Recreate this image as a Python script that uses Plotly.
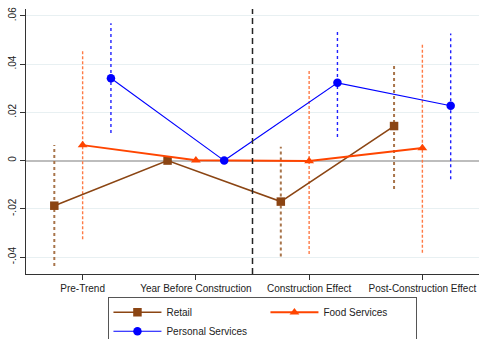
import plotly.graph_objects as go

# Event-study estimates by sector
periods = ["Pre-Trend", "Year Before Construction", "Construction Effect", "Post-Construction Effect"]

retail = [-0.0187, 0.0, -0.0170, 0.0143]
retail_lo = [-0.0437, None, -0.0398, -0.0118]
retail_hi = [0.0064, None, 0.0057, 0.0402]

food = [0.0064, 0.0001, -0.0002, 0.0052]
food_lo = [-0.0326, None, -0.0387, -0.0382]
food_hi = [0.0453, None, 0.0372, 0.0485]

personal = [0.0341, 0.0, 0.0322, 0.0227]
personal_lo = [0.0114, None, 0.0098, -0.0077]
personal_hi = [0.0569, None, 0.0540, 0.0526]

y_ticks = [-0.04, -0.02, 0, 0.02, 0.04, 0.06]
y_tick_text = ["-.04", "-.02", "0", ".02", ".04", ".06"]

FONT = "Liberation Sans, Arial, sans-serif"
pos = list(range(1, len(periods) + 1))


def ci_segments(xs, lo, hi):
    px, py = [], []
    for x, a, b in zip(xs, lo, hi):
        if a is None or b is None:
            continue
        px += [x, x, None]
        py += [a, b, None]
    return px, py


series = [
    # name, values, lo, hi, x-shift, line colour, ci colour, ci dash, ci width, symbol, line width, group
    ("Retail", retail, retail_lo, retail_hi, -0.25, "#8B4513", "#A8744A", "dot", 2.0, "square", 1.6, "a"),
    ("Food Services", food, food_lo, food_hi, 0.0, "#FF4500", "#FF7A45", "3px,2px", 1.4, "triangle-up", 2.0, "b"),
    ("Personal Services", personal, personal_lo, personal_hi, 0.25, "#0000FF", "#2020FF", "3px,3px", 1.4, "circle", 1.1, "a"),
]

fig = go.Figure()

# confidence intervals
for name, vals, lo, hi, shift, col, ccol, cdash, cw, sym, lw, grp in series:
    xs = [p + shift for p in pos]
    cx, cy = ci_segments(xs, lo, hi)
    fig.add_trace(go.Scatter(
        x=cx, y=cy, mode="lines", showlegend=False, hoverinfo="skip",
        line=dict(color=ccol, width=cw, dash=cdash),
    ))

# point estimates
for name, vals, lo, hi, shift, col, ccol, cdash, cw, sym, lw, grp in series:
    xs = [p + shift for p in pos]
    fig.add_trace(go.Scatter(
        x=xs, y=vals, mode="lines+markers", name=name,
        legendgroup=grp, legendwidth=94 if grp == "a" else 88,
        line=dict(color=col, width=lw),
        marker=dict(symbol=sym, size=8.5, color=col, line=dict(width=0)),
    ))

# construction start
fig.add_shape(type="line", xref="x", yref="paper", x0=2.5, x1=2.5, y0=0, y1=1,
              line=dict(color="#222222", width=1.5, dash="6px,4px"))

fig.update_layout(
    width=479, height=339,
    margin=dict(l=26, r=0, t=9, b=65, autoexpand=False),
    paper_bgcolor="white", plot_bgcolor="white",
    font=dict(family=FONT, size=10, color="#222222"),
    legend=dict(
        orientation="h", traceorder="grouped", tracegroupgap=0,
        x=0.182, xanchor="left", y=-0.086, yanchor="top",
        bordercolor="#555555", borderwidth=1, bgcolor="white",
        itemwidth=48, entrywidth=88, entrywidthmode="pixels",
        font=dict(family=FONT, size=10, color="#222222"),
    ),
    xaxis=dict(
        range=[0.5, 4.5], tickmode="array", tickvals=pos, ticktext=periods,
        showgrid=False, zeroline=False, showline=True, linecolor="#333333", linewidth=1,
        ticks="outside", ticklen=5, tickcolor="#333333",
        tickfont=dict(family=FONT, size=10, color="#222222"),
    ),
    yaxis=dict(
        range=[-0.047, 0.0628], tickmode="array", tickvals=y_ticks, ticktext=y_tick_text,
        tickangle=-90, showgrid=True, gridcolor="#E8F0F2", gridwidth=1,
        zeroline=True, zerolinecolor="#BDBDBD", zerolinewidth=1.5,
        showline=True, linecolor="#333333", linewidth=1,
        ticks="outside", ticklen=5, tickcolor="#333333",
        tickfont=dict(family=FONT, size=10, color="#222222"),
    ),
)

fig.write_html("out.html")
